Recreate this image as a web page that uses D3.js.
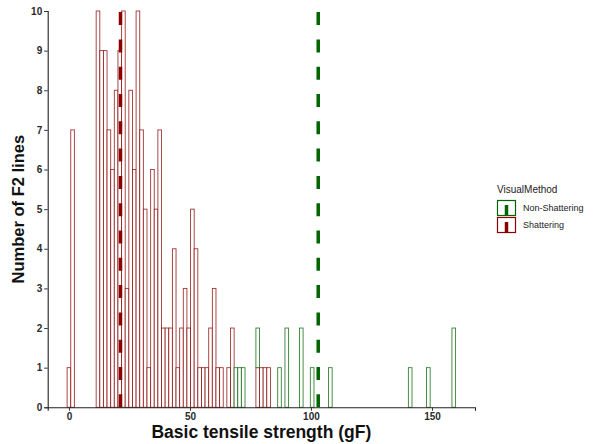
<!DOCTYPE html>
<html>
<head>
<meta charset="utf-8">
<script src="https://cdn.jsdelivr.net/npm/d3@7"></script>
<style>
  body { margin: 0; background: #fff; }
  text { font-family: "Liberation Sans", Arial, sans-serif; }
</style>
</head>
<body>
<div id="chart"></div>
<script>
// histogram bins: centre of each bin (gF) and number of F2 lines
const binWidth = 1.5;

const shatterCenters = [0, 1.5, 12, 13.5, 15, 16.5, 18, 19.5, 21, 22.5, 24, 25.5, 27, 28.5, 30, 31.5, 33, 34.5,
  36, 37.5, 39, 40.5, 42, 43.5, 45, 46.5, 48, 49.5, 51, 52.5, 54, 55.5, 57, 58.5, 60, 61.5, 63, 64.5, 66,
  67.5, 78, 79.5, 81, 82.5];
const shatterCounts = [1, 7, 10, 9, 9, 7, 6, 8, 9, 10, 3, 8, 6, 10, 7, 5, 1, 6, 5, 7, 2, 2, 2, 4,
  1, 2, 3, 2, 5, 4, 1, 1, 1, 2, 3, 1, 1, 0, 1, 2, 1, 1, 1, 1];

const nonShatterCenters = [69, 70.5, 72, 78, 87, 90, 96, 100.5, 108, 141, 148.5, 159];
const nonShatterCounts = [1, 1, 1, 1, 1, 2, 2, 1, 1, 1, 1, 2];

const groupMeans = [{group: "Non-Shattering", mean: 103.0}, {group: "Shattering", mean: 21.3}];

const xTicks = [0, 50, 100, 150];
const yTicks = [0, 1, 2, 3, 4, 5, 6, 7, 8, 9, 10];

const colors = {"Non-Shattering": "#006400", "Shattering": "#8B0000"};

const W = 595, H = 444;
const svg = d3.select("#chart").append("svg")
    .attr("width", W)
    .attr("height", H);

const x = d3.scaleLinear()
    .domain([-8.775, 167.775])
    .range([47.7, 475]);

const y = d3.scaleLinear()
    .domain([0, 10])
    .range([407.3, 11]);

// stacked bars: shattering at bottom, non-shattering on top
let shatterMap = new Map();
let bars = [];
shatterCenters.forEach((c, i) => {
    shatterMap.set(c, shatterCounts[i]);
    if (shatterCounts[i] > 0) {
        bars.push({group: "Shattering", c: c, y0: 0, y1: shatterCounts[i]});
    }
});
nonShatterCenters.forEach((c, i) => {
    let base = shatterMap.get(c) || 0;
    bars.push({group: "Non-Shattering", c: c, y0: base, y1: base + nonShatterCounts[i]});
});

svg.append("g").selectAll("rect")
    .data(bars)
    .enter()
    .append("rect")
    .attr("x", d => x(d.c - binWidth / 2))
    .attr("width", d => x(d.c + binWidth / 2) - x(d.c - binWidth / 2))
    .attr("y", d => y(d.y1))
    .attr("height", d => y(d.y0) - y(d.y1))
    .attr("fill", "white")
    .attr("stroke", d => colors[d.group])
    .attr("stroke-opacity", 0.8)
    .attr("stroke-width", 0.9);

// mean lines
svg.append("g").selectAll("line")
    .data(groupMeans)
    .enter()
    .append("line")
    .attr("x1", d => x(d.mean))
    .attr("x2", d => x(d.mean))
    .attr("y1", y(0))
    .attr("y2", y(10))
    .attr("stroke", d => colors[d.group])
    .attr("stroke-width", 3.5)
    .attr("stroke-dasharray", "13,14.3");

// axes
const xAxis = svg.append("g")
    .attr("transform", `translate(0, ${y(0)})`)
    .call(d3.axisBottom(x).tickValues(xTicks).tickSize(3.5).tickPadding(2));
const yAxis = svg.append("g")
    .attr("transform", `translate(${x.range()[0]}, 0)`)
    .call(d3.axisLeft(y).tickValues(yTicks).tickSize(3.5).tickPadding(2));

[xAxis, yAxis].forEach(a => {
    a.select(".domain").attr("stroke", "#222").attr("stroke-width", 1.1);
    a.selectAll(".tick line").attr("stroke", "#333").attr("stroke-width", 1);
    a.selectAll(".tick text")
        .attr("fill", "#2a2a2a")
        .style("font-size", "10px")
        .style("font-weight", "bold")
        .style("font-family", "Liberation Sans, Arial, sans-serif");
});

// axis titles
svg.append("text")
    .attr("x", (x.range()[0] + x.range()[1]) / 2)
    .attr("y", 438)
    .attr("text-anchor", "middle")
    .style("font-size", "17.5px")
    .style("font-weight", "bold")
    .attr("fill", "#111")
    .text("Basic tensile strength (gF)");

svg.append("text")
    .attr("transform", `translate(24, ${(y(0) + y(10)) / 2}) rotate(-90)`)
    .attr("text-anchor", "middle")
    .style("font-size", "16.5px")
    .style("font-weight", "bold")
    .attr("fill", "#111")
    .text("Number of F2 lines");

// legend
const legend = svg.append("g").attr("transform", "translate(497, 185)");
legend.append("text")
    .attr("x", 0)
    .attr("y", 8)
    .style("font-size", "10px")
    .attr("fill", "#222")
    .text("VisualMethod");

const keys = groupMeans.map(d => d.group);
const keyItem = legend.selectAll(".key")
    .data(keys)
    .enter()
    .append("g")
    .attr("class", "key")
    .attr("transform", (d, i) => `translate(0, ${15 + i * 17})`);

keyItem.append("rect")
    .attr("x", 0.5)
    .attr("y", 0.5)
    .attr("width", 18)
    .attr("height", 15)
    .attr("fill", "white")
    .attr("stroke", d => colors[d])
    .attr("stroke-width", 1.2);

keyItem.append("line")
    .attr("x1", 9.5)
    .attr("x2", 9.5)
    .attr("y1", 5)
    .attr("y2", 15.5)
    .attr("stroke", d => colors[d])
    .attr("stroke-width", 3.5);

keyItem.append("text")
    .attr("x", 26)
    .attr("y", 11)
    .style("font-size", "9px")
    .attr("fill", "#222")
    .text(d => d);
</script>
</body>
</html>
